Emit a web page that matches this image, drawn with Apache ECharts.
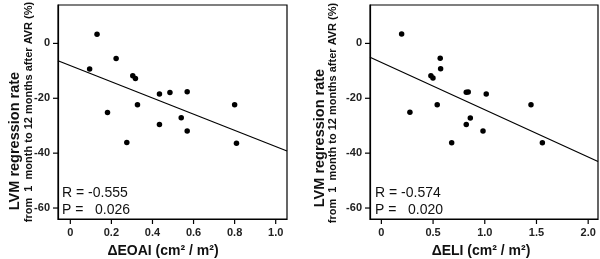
<!DOCTYPE html>
<html>
<head>
<meta charset="utf-8">
<script src="https://cdn.jsdelivr.net/npm/echarts@6/dist/echarts.min.js"></script>
<style>html,body{margin:0;padding:0;background:#fff}#c{width:600px;height:259px}</style>
</head>
<body>
<div id="c"></div>
<script>
// ---- data ----
const lvmRegression = [-9.3, 3.3, -5.5, -25.2, -11.8, -12.8, -22.4, -36.1, -18.4, -17.9, -17.6, -29.6, -27.1, -31.9, -22.4, -36.4];
const deltaEOAI = [0.094, 0.130, 0.223, 0.181, 0.304, 0.317, 0.327, 0.275, 0.434, 0.485, 0.569, 0.434, 0.540, 0.569, 0.800, 0.809];
const lvmRegressionELI = [-9.24, 3.39, -5.42, -25.13, -11.77, -12.64, -22.38, -36.21, -18.41, -17.80, -17.69, -29.60, -27.18, -31.88, -22.38, -36.21];
const deltaELI = [0.573, 0.196, 0.569, 0.276, 0.479, 0.499, 0.540, 0.680, 1.014, 0.821, 0.840, 0.821, 0.860, 0.983, 1.447, 1.557];
const yTicks = [0, -20, -40, -60];
const xTicksEOAI = [0, 0.2, 0.4, 0.6, 0.8, 1.0];
const xTicksELI = [0, 0.5, 1.0, 1.5, 2.0];
const statsEOAI = ['R = -0.555', 'P =   0.026'];
const statsELI = ['R = -0.574', 'P =   0.020'];
const yTitle1 = 'LVM regression rate';
const yTitle2 = 'from  1  month to 12 months after AVR (%)';
const xTitleEOAI = 'ΔEOAI (cm² / m²)';
const xTitleELI = 'ΔELI (cm² / m²)';

// ---- helpers ----
function pairs(xs, ys){ return xs.map((x,i)=>[x, ys[i]]); }
function fitLine(xs, ys, x0, x1){
  const n = xs.length;
  const mx = xs.reduce((a,b)=>a+b,0)/n, my = ys.reduce((a,b)=>a+b,0)/n;
  let sxy=0, sxx=0;
  for(let i=0;i<n;i++){ sxy += (xs[i]-mx)*(ys[i]-my); sxx += (xs[i]-mx)*(xs[i]-mx); }
  const b = sxy/sxx, a = my - b*mx;
  return [[x0, a+b*x0],[x1, a+b*x1]];
}
const FONT = 'Liberation Sans, Arial, sans-serif';
const ranges = [{min:-0.06, max:1.055}, {min:-0.11, max:2.095}];
const yRange = {min:-64, max:14};
const TICK = 5;

function xAxisCfg(idx, ticks){
  return {
    type:'value', gridIndex: idx, min: ranges[idx].min, max: ranges[idx].max, position:'bottom',
    axisLine:{show:true, onZero:false, lineStyle:{color:'#000', width:1.2}},
    axisTick:{show:false},
    axisLabel:{customValues: ticks, margin:8, color:'#222', fontSize:11, fontWeight:'bold', fontFamily:FONT,
      formatter: v => v === 0 ? '0' : v.toFixed(1)},
    splitLine:{show:false}
  };
}
function yAxisCfg(idx){
  return {
    type:'value', gridIndex: idx, min:yRange.min, max:yRange.max, position:'left',
    axisLine:{show:true, onZero:false, lineStyle:{color:'#000', width:1.2}},
    axisTick:{show:false},
    axisLabel:{customValues: yTicks, margin:8, color:'#222', fontSize:11, fontWeight:'bold', fontFamily:FONT},
    splitLine:{show:false}
  };
}
// tick marks drawn through the axis scales (outward from the frame)
function xTickSeries(idx, ticks){
  return {type:'custom', xAxisIndex:idx, yAxisIndex:idx, silent:true, clip:false, z:5,
    data: ticks.map(v=>[v, yRange.min]),
    renderItem:(params, api)=>{
      const p = api.coord([api.value(0), api.value(1)]);
      return {type:'line', shape:{x1:p[0], y1:p[1], x2:p[0], y2:p[1]+TICK}, style:{stroke:'#000', lineWidth:1.2}};
    }};
}
function yTickSeries(idx){
  return {type:'custom', xAxisIndex:idx, yAxisIndex:idx, silent:true, clip:false, z:5,
    data: yTicks.map(v=>[ranges[idx].min, v]),
    renderItem:(params, api)=>{
      const p = api.coord([api.value(0), api.value(1)]);
      return {type:'line', shape:{x1:p[0]-TICK, y1:p[1], x2:p[0], y2:p[1]}, style:{stroke:'#000', lineWidth:1.2}};
    }};
}
function txt(x, y, text, opt){
  return Object.assign({type:'text', x:x, y:y, silent:true,
    style:{text:text, fill:'#111', font:(opt&&opt.font)||('bold 14px '+FONT),
      align:(opt&&opt.align)||'center', verticalAlign:'middle'}}, opt&&opt.rot!=null?{rotation:opt.rot}:{});
}

const chart = echarts.init(document.getElementById('c'), null, {renderer:'canvas'});
chart.setOption({
  animation:false,
  backgroundColor:'#fff',
  grid:[
    {left:58, top:5, width:229, height:214, show:true, borderColor:'#000', borderWidth:1.2, backgroundColor:'transparent'},
    {left:370, top:5, width:228, height:214, show:true, borderColor:'#000', borderWidth:1.2, backgroundColor:'transparent'}
  ],
  xAxis:[xAxisCfg(0, xTicksEOAI), xAxisCfg(1, xTicksELI)],
  yAxis:[yAxisCfg(0), yAxisCfg(1)],
  series:[
    xTickSeries(0, xTicksEOAI), yTickSeries(0),
    xTickSeries(1, xTicksELI), yTickSeries(1),
    {type:'line', xAxisIndex:0, yAxisIndex:0, data: fitLine(deltaEOAI, lvmRegression, ranges[0].min, ranges[0].max),
      symbol:'none', lineStyle:{color:'#000', width:1.2}, silent:true},
    {type:'scatter', xAxisIndex:0, yAxisIndex:0, data: pairs(deltaEOAI, lvmRegression),
      symbolSize:5.5, itemStyle:{color:'#000', opacity:1}},
    {type:'line', xAxisIndex:1, yAxisIndex:1, data: fitLine(deltaELI, lvmRegressionELI, ranges[1].min, ranges[1].max),
      symbol:'none', lineStyle:{color:'#000', width:1.2}, silent:true},
    {type:'scatter', xAxisIndex:1, yAxisIndex:1, data: pairs(deltaELI, lvmRegressionELI),
      symbolSize:5.5, itemStyle:{color:'#000', opacity:1}}
  ],
  graphic:[
    txt(15, 141, yTitle1, {rot:Math.PI/2, font:'bold 14.5px '+FONT}),
    txt(29, 112, yTitle2, {rot:Math.PI/2, font:'bold 11px '+FONT}),
    txt(320, 138, yTitle1, {rot:Math.PI/2, font:'bold 14.5px '+FONT}),
    txt(333, 113, yTitle2, {rot:Math.PI/2, font:'bold 11px '+FONT}),
    txt(62, 193, statsEOAI[0], {align:'left', font:'14px '+FONT}),
    txt(62, 210, statsEOAI[1], {align:'left', font:'14px '+FONT}),
    txt(375, 193, statsELI[0], {align:'left', font:'14px '+FONT}),
    txt(375, 210, statsELI[1], {align:'left', font:'14px '+FONT}),
    txt(163, 251, xTitleEOAI, {font:'bold 14px '+FONT}),
    txt(481, 251, xTitleELI, {font:'bold 14px '+FONT})
  ]
});
</script>
</body>
</html>
